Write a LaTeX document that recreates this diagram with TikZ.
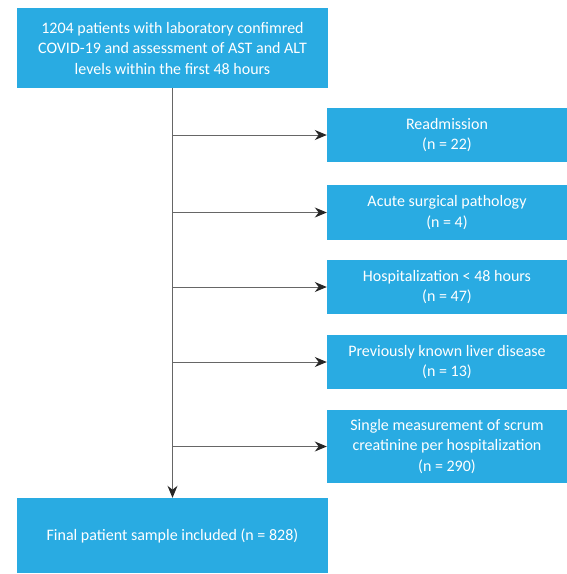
\documentclass[tikz,border=0pt]{standalone}
\usepackage{fontspec}
\setmainfont{Carlito}
\usepackage{xcolor}
\usetikzlibrary{arrows.meta}

\definecolor{boxblue}{HTML}{29ABE2}
\definecolor{linegray}{HTML}{666666}

\tikzset{
  flowbox/.style={fill=boxblue,text=white,align=center,inner sep=0pt,
    font=\fontsize{16}{20.5}\selectfont},
  flowarrow/.style={draw=linegray,line width=1pt,
    -{Stealth[length=12pt,width=10pt,color=black!85]}}
}

\begin{document}
\begin{tikzpicture}[x=1pt,y=-1pt]
  \useasboundingbox (0,0) rectangle (567,574);

  \node (pat) [flowbox,minimum width=311pt,minimum height=80pt] at (172.5,48)
    {1204 patients with laboratory confimred\\COVID-19 and assessment of AST and ALT\\levels within the first 48 hours};
  \node (readm) [flowbox,minimum width=240pt,minimum height=54pt] at (447,135)
    {Readmission\\(n = 22)};
  \node (surg) [flowbox,minimum width=240pt,minimum height=55pt] at (447,212.5)
    {Acute surgical pathology\\(n = 4)};
  \node (hosp) [flowbox,minimum width=240pt,minimum height=54pt] at (447,287)
    {Hospitalization < 48 hours\\(n = 47)};
  \node (liver) [flowbox,minimum width=240pt,minimum height=54pt] at (447,362)
    {Previously known liver disease\\(n = 13)};
  \node (scr) [flowbox,minimum width=240pt,minimum height=73pt] at (447,446.5)
    {Single measurement of scrum\\creatinine per hospitalization\\(n = 290)};
  \node (fin) [flowbox,minimum width=311pt,minimum height=75pt] at (172.5,535.5)
    {Final patient sample included (n = 828)};

  \draw[flowarrow] (pat.south) -- (fin.north);
  \path (pat.south |- readm.west) coordinate (readmi);
  \draw[flowarrow] (readmi) -- (readm.west);
  \path (pat.south |- surg.west) coordinate (surgi);
  \draw[flowarrow] (surgi) -- (surg.west);
  \path (pat.south |- hosp.west) coordinate (hospi);
  \draw[flowarrow] (hospi) -- (hosp.west);
  \path (pat.south |- liver.west) coordinate (liveri);
  \draw[flowarrow] (liveri) -- (liver.west);
  \path (pat.south |- scr.west) coordinate (scri);
  \draw[flowarrow] (scri) -- (scr.west);
\end{tikzpicture}
\end{document}
